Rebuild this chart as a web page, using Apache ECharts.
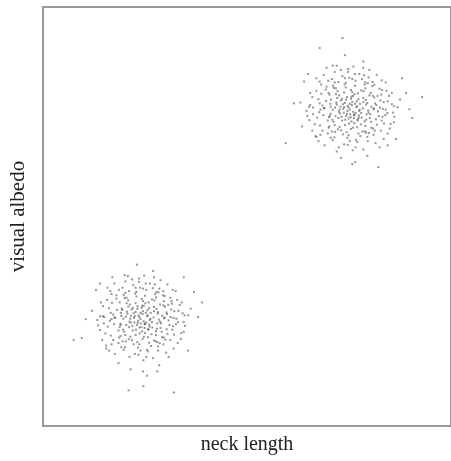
<!DOCTYPE html>
<html>
<head>
<meta charset="utf-8">
<script src="https://cdn.jsdelivr.net/npm/echarts@6/dist/echarts.min.js"></script>
<style>html,body{margin:0;padding:0;background:#fff}#c{width:451px;height:461px}</style>
</head>
<body>
<div id="c"></div>
<script>
// Estimated point positions (axis units 0-10)
const upperCluster = [
[7.71,7.32],[7.02,7.91],[7.98,7.48],[7.49,7.60],[8.36,7.22],[7.21,7.83],[7.55,7.09],[8.03,7.95],[7.32,7.38],[6.55,7.66],
[7.65,8.12],[7.88,7.27],[7.05,7.45],[8.14,7.70],[7.38,7.96],[7.76,7.55],[7.15,7.18],[8.69,7.61],[7.43,7.79],[7.83,7.03],
[6.77,7.49],[7.60,7.88],[8.25,8.05],[7.27,7.14],[7.92,7.67],[6.98,7.29],[7.51,8.31],[7.74,7.41],[6.31,7.72],[8.48,7.88],
[7.67,6.83],[7.13,8.07],[8.09,7.10],[7.46,7.52],[7.85,7.83],[6.90,7.59],[8.01,7.35],[7.35,6.96],[7.57,7.66],[8.21,7.51],
[7.19,7.72],[7.63,7.23],[6.82,7.93],[7.80,8.01],[7.41,7.31],[8.39,7.42],[7.08,7.03],[7.69,7.75],[7.29,7.62],[7.96,8.18],
[7.53,7.44],[6.66,7.20],[8.55,7.68],[7.24,8.21],[7.90,7.16],[7.44,7.01],[8.12,7.84],[6.94,7.76],[7.58,7.97],[7.37,7.48],
[8.30,7.29],[7.10,7.55],[7.78,6.92],[7.48,8.45],[6.72,7.36],[8.05,7.62],[7.26,7.89],[7.62,7.35],[8.42,8.00],[7.00,7.12],
[7.84,7.58],[7.40,7.71],[7.17,7.40],[8.18,7.19],[7.66,8.24],[6.60,7.85],[7.93,7.44],[7.31,7.06],[7.73,7.80],[8.61,7.38],
[7.47,6.71],[6.85,7.65],[8.07,8.11],[7.56,7.27],[7.22,7.99],[7.99,6.99],[7.36,7.57],[8.27,7.77],[7.04,7.69],[7.70,7.13],
[6.46,7.52],[7.87,8.37],[7.52,7.69],[8.33,7.57],[7.12,7.26],[7.64,7.92],[6.93,8.03],[7.81,7.36],[7.28,7.46],[8.16,7.32],
[7.59,6.58],[7.06,7.79],[8.44,7.47],[7.42,8.08],[7.95,7.71],[6.79,7.17],[7.75,7.52],[7.20,7.67],[8.00,7.89],[7.50,7.22],
[8.75,7.79],[7.14,6.89],[7.86,7.99],[7.33,7.29],[7.68,7.61],[6.99,8.24],[8.23,7.40],[7.45,7.85],[7.79,7.20],[6.62,7.44],
[7.61,8.58],[8.10,7.56],[7.25,7.50],[7.89,7.03],[7.39,8.15],[8.52,7.21],[7.01,7.37],[7.72,7.94],[7.30,7.77],[8.04,7.26],
[6.88,7.58],[7.54,7.37],[8.29,7.91],[7.16,7.60],[7.82,8.28],[7.46,6.88],[6.70,8.00],[8.17,7.66],[7.55,7.81],[7.09,7.31],
[7.97,7.53],[7.34,8.35],[8.60,7.63],[7.23,7.08],[7.77,7.69],[6.53,7.30],[7.63,7.43],[8.08,8.21],[7.40,7.18],[7.91,7.78],
[6.15,7.70],[8.98,7.56],[7.58,6.25],[7.40,8.85],[6.40,8.22],[8.80,8.30],[6.70,6.90],[8.65,6.85],[7.95,6.45],[7.10,8.60],
[6.35,7.15],[8.90,7.95],[7.30,6.40],[7.85,8.70],[6.50,8.40],[9.05,7.35],[7.65,6.30],[6.95,8.55],[8.45,6.70],[7.20,6.55],
[7.52,7.55],[7.60,7.50],[7.47,7.64],[7.66,7.47],[7.43,7.40],[7.58,7.73],[7.70,7.63],[7.35,7.68],[7.62,7.42],[7.49,7.34],
[7.80,7.47],[7.27,7.55],[7.56,7.86],[7.71,7.29],[7.38,7.61],[7.85,7.73],[7.45,7.45],[7.65,7.69],[7.33,7.81],[7.74,7.36],
[7.05,7.62],[8.02,7.44],[7.55,8.02],[7.92,7.31],[7.18,7.92],[8.20,7.88],[7.60,7.12],[7.03,7.40],[8.11,7.58],[7.42,8.19],
[6.87,7.42],[8.35,7.73],[7.73,6.98],[7.11,8.12],[8.13,7.05],[6.75,7.80],[7.90,8.06],[7.49,6.94],[8.40,7.55],[7.24,7.35],
[7.34,9.26],[6.78,9.02],[9.29,7.85],[5.95,6.75],[8.22,6.18],
[8.12,8.14],[7.98,8.32],[8.31,8.02],[6.95,8.10],[7.08,8.28],[6.82,8.15],[8.10,6.95],[8.28,7.05],[7.96,6.80],[6.98,6.98],
[7.10,6.82],[6.85,7.05],[8.40,8.20],[6.70,8.30],[8.35,6.85],[6.75,6.80],[8.00,8.50],[7.15,8.45],[8.25,6.65],[6.90,6.70],
[8.55,7.95],[6.55,7.95],[8.50,7.10],[6.60,7.05],[7.85,8.55],[7.20,8.60],[7.85,6.60],[7.25,6.65],[8.18,8.38],[6.88,8.38],
[8.45,6.98],[6.68,6.92],[7.90,8.20],[7.15,8.20],[7.95,6.90],[7.05,6.88],[8.30,8.25],[6.78,8.22],[8.15,6.75],[6.80,6.95],
[7.75,8.40],[7.30,8.50],[8.60,7.25],[6.48,7.40],[8.08,7.88],[7.00,7.95],[8.05,7.12],[7.02,7.15],[7.88,8.15],[7.18,8.06],
[7.92,7.00],[7.16,7.02],[8.26,7.60],[6.80,7.55],[7.58,8.28],[7.52,6.80],[8.32,7.38],[6.78,7.70],[7.40,8.30],[7.70,6.78],
[8.45,7.75],[6.62,7.60],[7.65,8.40],[7.38,6.72],[8.58,7.48],[6.52,7.62],[7.48,8.52],[7.66,6.65]
];
const lowerCluster = [
[2.58,2.31],[1.94,2.77],[2.87,2.49],[2.36,2.60],[3.21,2.18],[2.09,2.85],[2.44,2.08],[2.96,2.98],[2.19,2.39],[1.47,2.62],
[2.50,3.11],[2.77,2.26],[1.90,2.44],[3.03,2.71],[2.27,2.93],[2.63,2.56],[2.02,2.17],[3.56,2.64],[2.31,2.80],[2.72,2.04],
[1.64,2.51],[2.47,2.87],[3.12,3.06],[2.14,2.13],[2.81,2.68],[1.85,2.28],[2.38,3.30],[2.61,2.42],[1.20,2.75],[3.35,2.89],
[2.55,1.82],[2.00,3.06],[2.96,2.11],[2.33,2.51],[2.72,2.84],[1.77,2.58],[2.88,2.34],[2.22,1.95],[2.44,2.67],[3.08,2.52],
[2.06,2.73],[2.50,2.22],[1.69,2.94],[2.67,3.02],[2.28,2.30],[3.26,2.43],[1.95,2.02],[2.56,2.76],[2.16,2.63],[2.83,3.19],
[2.40,2.45],[1.53,2.21],[3.42,2.69],[2.11,3.22],[2.77,2.17],[2.31,2.00],[2.99,2.85],[1.81,2.77],[2.45,2.98],[2.24,2.47],
[3.17,2.30],[1.97,2.56],[2.65,1.91],[2.35,3.44],[1.59,2.37],[2.92,2.63],[2.13,2.90],[2.49,2.34],[3.29,3.01],[1.87,2.11],
[2.71,2.59],[2.27,2.72],[2.04,2.41],[3.05,2.20],[2.53,3.25],[1.47,2.86],[2.80,2.45],[2.18,2.05],[2.60,2.81],[3.48,2.39],
[2.34,1.70],[1.72,2.66],[2.94,3.12],[2.43,2.26],[2.09,3.00],[2.86,1.98],[2.23,2.58],[3.14,2.78],[1.91,2.70],[2.57,2.12],
[1.33,2.53],[2.74,3.38],[2.39,2.70],[3.20,2.58],[1.99,2.25],[2.51,2.93],[1.80,3.04],[2.68,2.35],[2.15,2.47],[3.03,2.31],
[2.46,1.57],[1.93,2.80],[3.31,2.48],[2.29,3.09],[2.82,2.72],[1.66,2.16],[2.62,2.53],[2.07,2.68],[2.87,2.90],[2.37,2.21],
[3.62,2.80],[2.01,1.88],[2.73,3.00],[2.20,2.28],[2.55,2.62],[1.86,3.25],[3.10,2.41],[2.32,2.86],[2.66,2.19],[1.49,2.45],
[2.48,3.59],[2.97,2.57],[2.12,2.49],[2.76,2.02],[2.26,3.16],[3.39,2.22],[1.88,2.36],[2.59,2.95],[2.17,2.78],[2.91,2.25],
[1.75,2.59],[2.41,2.36],[3.16,2.92],[2.03,2.61],[2.69,3.29],[2.33,1.87],[1.57,3.01],[3.04,2.67],[2.42,2.82],[1.96,2.30],
[2.84,2.54],[2.21,3.36],[3.47,2.64],[2.10,2.07],[2.64,2.70],[1.40,2.29],[2.50,2.44],[2.95,3.22],[2.27,2.17],[2.78,2.79],
[1.05,2.55],[3.80,2.60],[2.45,1.30],[2.30,3.85],[1.30,3.25],[3.70,3.20],[1.55,1.85],[3.55,1.80],[2.85,1.45],[2.00,3.60],
[0.95,2.10],[3.90,2.95],[2.15,1.35],[2.70,3.70],[1.40,3.40],[2.80,1.30],[1.85,1.50],[3.45,3.55],[1.70,3.55],[2.55,1.20],
[2.39,2.55],[2.47,2.50],[2.34,2.64],[2.53,2.47],[2.30,2.41],[2.45,2.74],[2.57,2.64],[2.22,2.69],[2.49,2.43],[2.36,2.35],
[2.67,2.48],[2.14,2.56],[2.43,2.87],[2.58,2.30],[2.25,2.62],[2.72,2.74],[2.32,2.46],[2.52,2.70],[2.20,2.82],[2.61,2.37],
[1.92,2.63],[2.89,2.45],[2.42,3.03],[2.79,2.32],[2.05,2.93],[3.07,2.89],[2.47,2.13],[1.90,2.41],[2.98,2.59],[2.29,3.20],
[1.74,2.43],[3.22,2.74],[2.60,1.99],[1.98,3.13],[3.00,2.06],[1.62,2.81],[2.77,3.07],[2.36,1.95],[3.27,2.56],[2.11,2.36],
[2.10,0.85],[2.46,0.95],[3.21,0.80],[0.75,2.05],
[2.98,3.10],[2.85,3.28],[3.15,2.98],[1.80,3.12],[1.95,3.30],[1.68,3.15],[2.95,1.95],[3.12,2.05],[2.82,1.80],[1.85,1.98],
[1.98,1.82],[1.72,2.05],[3.25,3.22],[1.58,3.30],[3.20,1.85],[1.62,1.80],[2.88,3.48],[2.02,3.45],[3.08,1.65],[1.76,1.72],
[3.40,2.95],[1.42,2.95],[3.38,2.08],[1.45,2.05],[2.72,3.55],[2.08,3.58],[2.70,1.62],[2.12,1.65],[3.05,3.38],[1.75,3.40],
[3.30,1.98],[1.55,1.92],[2.78,3.20],[2.02,3.18],[2.82,1.90],[1.92,1.88],[3.18,3.25],[1.65,3.22],[3.02,1.75],[1.68,1.95],
[2.62,3.40],[2.18,3.50],[3.45,2.25],[1.35,2.40],[2.95,2.88],[1.88,2.95],[2.92,2.12],[1.90,2.15],[2.75,3.15],[2.05,3.06],
[2.80,2.00],[2.03,2.02],[3.13,2.60],[1.68,2.55],[2.45,3.28],[2.39,1.80],[3.19,2.38],[1.66,2.70],[2.27,3.30],[2.57,1.78],
[3.32,2.75],[1.50,2.60],[2.52,3.40],[2.25,1.72],[3.45,2.48],[1.40,2.62],[2.35,3.52],[2.53,1.65]
];
const xName = 'neck length';
const yName = 'visual albedo';

const chart = echarts.init(document.getElementById('c'), null, {renderer:'canvas'});
const font = {fontFamily:'Liberation Serif', fontSize:20, color:'#222'};
chart.setOption({
  animation:false,
  backgroundColor:'#fff',
  grid:{left:41, top:7, right:-2, bottom:35, show:true, borderColor:'#9a9a9a', borderWidth:2, backgroundColor:'transparent'},
  xAxis:{type:'value', min:0, max:10, name:xName, nameLocation:'middle', nameGap:9, nameTextStyle:font,
         axisLine:{show:false}, axisTick:{show:false}, axisLabel:{show:false}, splitLine:{show:false}},
  yAxis:{type:'value', min:0, max:10, name:yName, nameLocation:'middle', nameGap:14, nameTextStyle:Object.assign({}, font, {fontSize:21}),
         axisLine:{show:false}, axisTick:{show:false}, axisLabel:{show:false}, splitLine:{show:false}},
  series:[
    {type:'scatter', data:upperCluster, symbol:'rect', symbolSize:2, itemStyle:{color:'rgba(35,35,35,0.6)'}},
    {type:'scatter', data:lowerCluster, symbol:'rect', symbolSize:2, itemStyle:{color:'rgba(35,35,35,0.6)'}}
  ]
});
</script>
</body>
</html>
